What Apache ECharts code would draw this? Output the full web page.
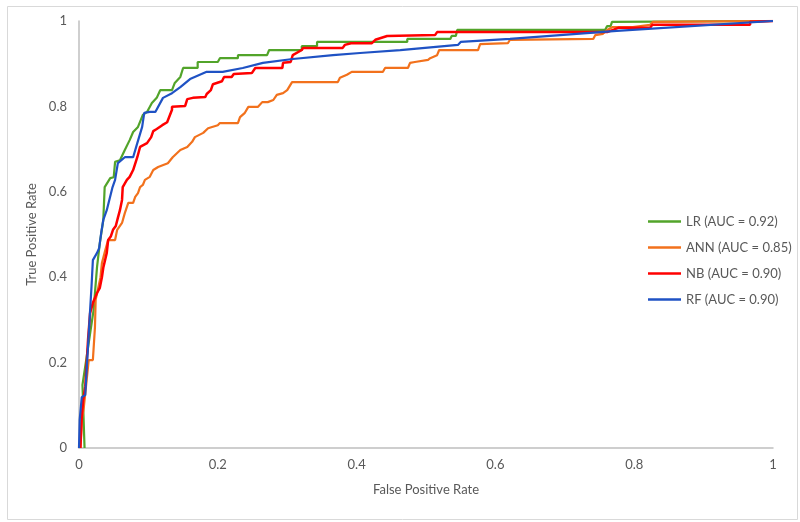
<!DOCTYPE html>
<html>
<head>
<meta charset="utf-8">
<script src="https://cdn.jsdelivr.net/npm/echarts@6/dist/echarts.min.js"></script>
<style>
html,body{margin:0;padding:0;background:#fff;}
#chart{width:800px;height:522px;}
</style>
</head>
<body>
<div id="chart"></div>
<script>
// ---- Data ----
var seriesNames = ['LR (AUC = 0.92)', 'ANN (AUC = 0.85)', 'NB (AUC = 0.90)', 'RF (AUC = 0.90)'];
var axisTicks = [0, 0.2, 0.4, 0.6, 0.8, 1];

var lrFpr = [0.008,0.005,0.011,0.021,0.026,0.030,0.035,0.037,0.045,0.050,0.052,0.059,0.066,0.073,0.078,0.085,0.092,0.098,0.105,0.112,0.117,0.134,0.138,0.146,0.150,0.171,0.171,0.200,0.203,0.229,0.229,0.271,0.274,0.321,0.321,0.343,0.343,0.473,0.473,0.535,0.537,0.543,0.545,0.758,0.761,0.766,0.768,1];
var lrTpr = [0,0.148,0.213,0.323,0.424,0.480,0.534,0.611,0.632,0.634,0.670,0.674,0.698,0.721,0.740,0.752,0.780,0.787,0.808,0.820,0.838,0.838,0.855,0.869,0.890,0.890,0.904,0.904,0.913,0.913,0.920,0.920,0.932,0.932,0.941,0.941,0.951,0.951,0.958,0.958,0.965,0.965,0.979,0.979,0.988,0.988,0.998,1];

var annFpr = [0.002,0.004,0.007,0.010,0.014,0.020,0.023,0.024,0.031,0.033,0.038,0.042,0.052,0.055,0.062,0.066,0.071,0.078,0.081,0.085,0.088,0.092,0.095,0.102,0.107,0.114,0.128,0.135,0.146,0.156,0.163,0.167,0.179,0.186,0.200,0.203,0.229,0.232,0.239,0.244,0.258,0.264,0.272,0.280,0.285,0.294,0.300,0.307,0.373,0.376,0.386,0.393,0.438,0.441,0.474,0.477,0.484,0.503,0.506,0.516,0.519,0.575,0.578,0.618,0.621,0.741,0.744,0.755,0.761,0.769,0.798,0.823,0.827,1];
var annTpr = [0,0.066,0.096,0.143,0.206,0.206,0.283,0.347,0.400,0.433,0.464,0.487,0.487,0.511,0.527,0.550,0.574,0.574,0.588,0.597,0.611,0.616,0.628,0.635,0.651,0.658,0.667,0.681,0.698,0.705,0.717,0.728,0.738,0.749,0.756,0.761,0.761,0.775,0.785,0.799,0.799,0.810,0.810,0.815,0.827,0.831,0.838,0.857,0.857,0.867,0.874,0.881,0.881,0.890,0.890,0.902,0.904,0.909,0.913,0.920,0.932,0.932,0.946,0.948,0.956,0.958,0.967,0.970,0.979,0.986,0.986,0.991,0.998,1];

var nbFpr = [0.002,0.003,0.004,0.006,0.009,0.013,0.016,0.020,0.026,0.030,0.033,0.035,0.040,0.042,0.046,0.049,0.053,0.056,0.059,0.062,0.063,0.069,0.073,0.078,0.084,0.088,0.098,0.104,0.107,0.112,0.120,0.127,0.134,0.134,0.153,0.156,0.164,0.182,0.184,0.190,0.193,0.206,0.209,0.220,0.223,0.249,0.254,0.293,0.294,0.305,0.308,0.321,0.323,0.380,0.383,0.392,0.422,0.427,0.444,0.513,0.516,0.761,0.777,0.823,0.826,0.967,0.967,1];
var nbTpr = [0,0.035,0.073,0.112,0.143,0.253,0.316,0.340,0.363,0.375,0.400,0.422,0.457,0.487,0.496,0.511,0.520,0.539,0.557,0.581,0.611,0.628,0.635,0.651,0.681,0.705,0.714,0.728,0.742,0.747,0.756,0.763,0.792,0.799,0.801,0.817,0.820,0.822,0.829,0.838,0.852,0.859,0.869,0.869,0.876,0.878,0.890,0.890,0.902,0.904,0.920,0.932,0.937,0.937,0.944,0.948,0.948,0.956,0.965,0.967,0.974,0.974,0.984,0.984,0.991,0.991,0.998,1];

var rfFpr = [0,0.001,0.004,0.009,0.011,0.016,0.018,0.020,0.026,0.029,0.032,0.035,0.040,0.048,0.052,0.056,0.066,0.078,0.084,0.091,0.094,0.102,0.110,0.121,0.134,0.146,0.160,0.184,0.207,0.236,0.265,0.308,0.366,0.405,0.463,0.546,0.550,0.621,0.775,1];
var rfTpr = [0,0.066,0.119,0.124,0.183,0.323,0.377,0.440,0.457,0.468,0.504,0.534,0.557,0.609,0.628,0.667,0.681,0.681,0.714,0.752,0.785,0.787,0.787,0.820,0.831,0.845,0.864,0.881,0.881,0.890,0.902,0.911,0.920,0.925,0.932,0.944,0.951,0.958,0.977,1];

var colors = ['#52a42a', '#f2711c', '#ff0000', '#1f52c4'];

function zip(a, b) { return a.map(function (v, i) { return [v, b[i]]; }); }
var allData = [zip(lrFpr, lrTpr), zip(annFpr, annTpr), zip(nbFpr, nbTpr), zip(rfFpr, rfTpr)];

var FONT = 'Lato';
var TXT = '#595959';

var chart = echarts.init(document.getElementById('chart'));
chart.setOption({
  animation: false,
  backgroundColor: '#ffffff',
  graphic: [{
    type: 'rect', left: 5, top: 4, silent: true,
    shape: { width: 790, height: 513 },
    style: { fill: 'none', stroke: '#d9d9d9', lineWidth: 1 }
  }],
  grid: { left: 79, right: 27, top: 21, bottom: 74, containLabel: false },
  legend: {
    orient: 'vertical', left: 643, top: 210,
    icon: 'rect',
    itemWidth: 33, itemHeight: 2.5, itemGap: 13,
    data: seriesNames,
    textStyle: { fontFamily: FONT, fontSize: 13, color: TXT }
  },
  xAxis: {
    type: 'value', min: 0, max: 1, interval: 0.2,
    name: 'False Positive Rate', nameLocation: 'middle', nameGap: 35,
    nameTextStyle: { fontFamily: FONT, fontSize: 13, color: TXT },
    axisLine: { show: true, lineStyle: { color: '#bfbfbf', width: 1.5 } },
    axisTick: { show: false },
    splitLine: { show: false },
    axisLabel: { fontFamily: FONT, fontSize: 13, color: TXT, margin: 10,
      formatter: function (v) { return axisTicks.indexOf(Math.round(v * 10) / 10) >= 0 ? String(Math.round(v * 10) / 10) : ''; } }
  },
  yAxis: {
    type: 'value', min: 0, max: 1, interval: 0.2,
    name: 'True Positive Rate', nameLocation: 'middle', nameGap: 35, nameRotate: 90,
    nameTextStyle: { fontFamily: FONT, fontSize: 13, color: TXT },
    axisLine: { show: true, lineStyle: { color: '#bfbfbf', width: 1.5 } },
    axisTick: { show: false },
    splitLine: { show: false },
    axisLabel: { fontFamily: FONT, fontSize: 13, color: TXT, margin: 12,
      formatter: function (v) { return String(Math.round(v * 10) / 10); } }
  },
  series: seriesNames.map(function (n, i) {
    return {
      name: n, type: 'line', data: allData[i],
      symbol: 'none', showSymbol: false,
      smooth: false,
      lineStyle: { color: colors[i], width: i === 2 ? 2.5 : 2.2 },
      itemStyle: { color: colors[i] }
    };
  })
});
</script>
</body>
</html>
